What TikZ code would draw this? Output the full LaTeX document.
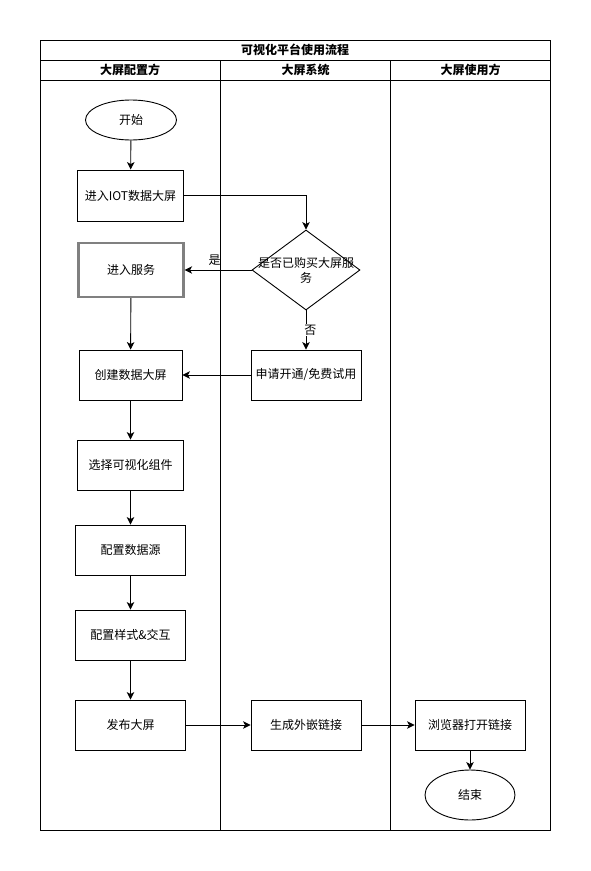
\documentclass[tikz,border=0pt]{standalone}
\usepackage{fontspec}
\setmainfont{Noto Sans CJK SC}
\usetikzlibrary{arrows.meta,shapes.geometric}
\tikzset{
  txt/.style={font=\fontsize{12}{15}\selectfont},
  hdr/.style={font=\fontsize{12}{15}\selectfont\bfseries},
  box/.style={draw, line width=0.9pt, rectangle, inner sep=0pt, txt},
  graybox/.style={draw=black!50, line width=2.2pt, rectangle, inner sep=0pt, txt},
  term/.style={draw, line width=0.9pt, ellipse, inner sep=0pt, txt},
  dec/.style={draw, line width=0.9pt, diamond, inner sep=0pt},
  frame/.style={draw, line width=0.9pt},
  arr/.style={draw, line width=0.9pt, -{Stealth[length=7.5pt,width=7.5pt,inset=2pt]}},
}
\begin{document}
\begin{tikzpicture}[x=1pt,y=-1pt]
\useasboundingbox (0,0) rectangle (591,871);
\fill[white] (0,0) rectangle (591,871);
% frame
\draw[frame] (40,40) rectangle (550,830);
\draw[frame] (40,60) -- (550,60);
\draw[frame] (40,80) -- (550,80);
\draw[frame] (220.5,60) -- (220.5,830);
\draw[frame] (390.5,60) -- (390.5,830);
\node[hdr] (title) at (295,50) {可视化平台使用流程};
\node[hdr] (h1) at (130,70) {大屏配置方};
\node[hdr] (h2) at (305.5,70) {大屏系统};
\node[hdr] (h3) at (470.5,70) {大屏使用方};
% lane 1
\node[term, minimum width=91pt, minimum height=40pt] (start) at (131,120) {开始};
\node[box, minimum width=106pt, minimum height=51pt] (iot) at (130.5,195.5) {进入IOT数据大屏};
\node[graybox, minimum width=105pt, minimum height=54pt] (svc) at (131,270) {进入服务};
\node[box, minimum width=103pt, minimum height=50pt] (create) at (130.5,375) {创建数据大屏};
\node[box, minimum width=106pt, minimum height=50pt] (sel) at (130.5,465) {选择可视化组件};
\node[box, minimum width=110pt, minimum height=50pt] (src) at (130.5,550) {配置数据源};
\node[box, minimum width=110pt, minimum height=50pt] (sty) at (130.5,635) {配置样式\&交互};
\node[box, minimum width=110pt, minimum height=50pt] (pub) at (130.5,725) {发布大屏};
% lane 2
\node[dec, minimum width=108pt, minimum height=80pt] (q) at (306,270) {};
\node[txt, align=center] (qt) at (306,270) {是否已购买大屏服\\务};
\node[box, minimum width=110pt, minimum height=50pt] (apply) at (306,375) {申请开通/免费试用};
\node[box, minimum width=110pt, minimum height=50pt] (link) at (306,725) {生成外嵌链接};
% lane 3
\node[box, minimum width=110pt, minimum height=50pt] (open) at (470,725) {浏览器打开链接};
\node[term, minimum width=90pt, minimum height=50pt] (end) at (470,795) {结束};
% connectors
\draw[arr] (start) -- (iot);
\draw[arr] (iot.east) -| (q.north);
\draw[arr] (q.west) -- node[txt, pos=0.55, above=1pt] (yes) {是} (svc.east);
\draw[arr] (q.south) -- node[txt, pos=0.5, right=-3pt, fill=white, inner sep=1pt] (no) {否} (apply.north);
\draw[arr] (svc) -- (create);
\draw[arr] (apply.west) -- (create.east);
\draw[arr] (create) -- (sel);
\draw[arr] (sel) -- (src);
\draw[arr] (src) -- (sty);
\draw[arr] (sty) -- (pub);
\draw[arr] (pub) -- (link);
\draw[arr] (link) -- (open);
\draw[arr] (open) -- (end);
\end{tikzpicture}
\end{document}
